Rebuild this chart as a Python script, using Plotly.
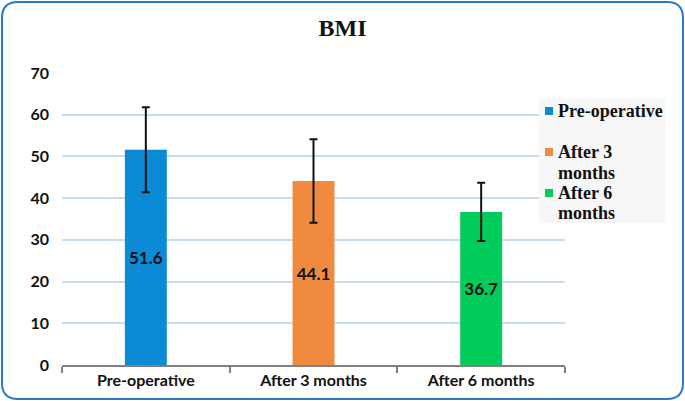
import plotly.graph_objects as go

categories = ["Pre-operative", "After 3 months", "After 6 months"]
legend_lines = [["Pre-operative"], ["After 3", "months"], ["After 6", "months"]]
values = [51.6, 44.1, 36.7]
errors = [10.2, 10.0, 7.0]
colors = ["#0b8ad6", "#f08a3e", "#00cc5c"]
y_ticks = [0, 10, 20, 30, 40, 50, 60, 70]

W, H = 685, 401
ML, MR, MT, MB = 62, 120, 73, 36
PW, PH = W - ML - MR, H - MT - MB

def px(x):
    return (x - ML) / PW

def py(y):
    return (H - MB - y) / PH

fig = go.Figure()
for i in range(3):
    fig.add_trace(go.Bar(
        x=[categories[i]], y=[values[i]], name=categories[i],
        marker=dict(color=colors[i], line=dict(width=0)),
        width=0.25,
        error_y=dict(type="data", array=[errors[i]], color="#111111", thickness=2, width=4),
        text=[f"{values[i]:.1f}"], textposition="inside", insidetextanchor="middle",
        textfont=dict(family="Lato", size=17, color="#111111", weight="bold"),
        textangle=0,
    ))

# rounded border path
x0, x1, y0, y1, r = 2, 683, 2, 399, 16
path = (f"M {px(x0+r)},{py(y0)} L {px(x1-r)},{py(y0)} Q {px(x1)},{py(y0)} {px(x1)},{py(y0+r)} "
        f"L {px(x1)},{py(y1-r)} Q {px(x1)},{py(y1)} {px(x1-r)},{py(y1)} "
        f"L {px(x0+r)},{py(y1)} Q {px(x0)},{py(y1)} {px(x0)},{py(y1-r)} "
        f"L {px(x0)},{py(y0+r)} Q {px(x0)},{py(y0)} {px(x0+r)},{py(y0)} Z")

shapes = [
    dict(type="rect", xref="paper", yref="paper", x0=px(539), x1=px(665), y0=py(99), y1=py(223),
         fillcolor="#f7f7f7", line=dict(width=0), layer="above"),
    dict(type="path", path=path, xref="paper", yref="paper",
         line=dict(color="#2a7bc4", width=2), fillcolor="rgba(0,0,0,0)", layer="above"),
]

line_y = [[111], [152, 173], [193, 213]]
annotations = []
for i in range(3):
    yc = line_y[i][0]
    shapes.append(dict(type="rect", xref="paper", yref="paper",
                       x0=px(545), x1=px(553), y0=py(yc - 4), y1=py(yc + 4),
                       fillcolor=colors[i], line=dict(width=0), layer="above"))
    for txt, yy in zip(legend_lines[i], line_y[i]):
        annotations.append(dict(
            xref="paper", yref="paper", x=px(556), y=py(yy), xanchor="left", yanchor="middle",
            align="left", showarrow=False, text=txt,
            font=dict(family="Liberation Serif", size=18, color="#111111", weight="bold"),
        ))

fig.update_layout(
    width=W, height=H,
    margin=dict(l=ML, r=MR, t=MT, b=MB),
    paper_bgcolor="white", plot_bgcolor="white",
    barmode="overlay",
    title=dict(text="<b>BMI</b>", x=0.5, xref="container", xanchor="center",
               y=1 - 28 / H, yanchor="middle",
               font=dict(family="Liberation Serif", size=24, color="#111111")),
    shapes=shapes,
    annotations=annotations,
    showlegend=False,
)
fig.update_xaxes(
    type="category", categoryorder="array", categoryarray=categories,
    showline=True, linecolor="#808080", linewidth=2,
    ticks="outside", tickson="boundaries", ticklen=6, tickcolor="#808080", tickwidth=2,
    showgrid=False,
    tickfont=dict(family="Lato", size=16, color="#111111", weight="bold"),
)
fig.update_yaxes(
    range=[0, 70], tickvals=y_ticks, showgrid=True, gridcolor="#c8dcec", gridwidth=1.5,
    zeroline=False, showline=False, ticks="",
    ticklabelstandoff=12,
    tickfont=dict(family="Lato", size=16, color="#111111", weight="bold"),
)
fig.write_html("out.html", config={"displayModeBar": False},
               post_script="document.body.style.margin='0';")
